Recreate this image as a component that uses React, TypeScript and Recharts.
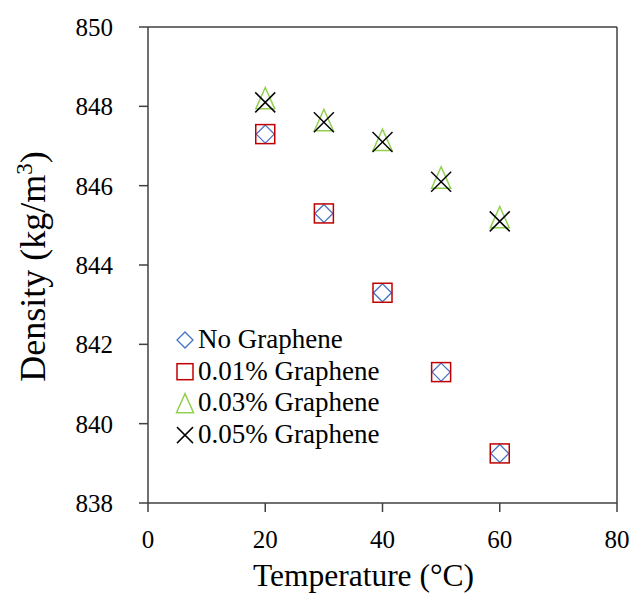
import React from "react";
import { ScatterChart, Scatter, XAxis, YAxis, ReferenceLine } from "recharts";

const temperatures = [20, 30, 40, 50, 60];
const noGraphene = [847.3, 845.3, 843.3, 841.3, 839.25];
const graphene001 = [847.3, 845.3, 843.3, 841.3, 839.25];
const graphene003 = [848.2, 847.65, 847.15, 846.2, 845.2];
const graphene005 = [848.1, 847.6, 847.1, 846.1, 845.1];
const xTicks = [0, 20, 40, 60, 80];
const yTicks = [838, 840, 842, 844, 846, 848, 850];
const seriesNames = ["No Graphene", "0.01% Graphene", "0.03% Graphene", "0.05% Graphene"];

const toPoints = (vals: number[]) => temperatures.map((t, i) => ({ t, d: vals[i] }));

const FONT = "Liberation Serif, Times New Roman, serif";
const AXIS = "#404040";
const BLUE = "#4472C4";
const RED = "#C00000";
const GREEN = "#92D050";

type MarkerKind = "diamond" | "square" | "triangle" | "cross";

const Marker = ({ kind, cx, cy, s }: { kind: MarkerKind; cx: number; cy: number; s: number }) => {
  if (kind === "diamond")
    return <path d={`M${cx},${cy - s} L${cx + s},${cy} L${cx},${cy + s} L${cx - s},${cy} Z`} fill="none" stroke={BLUE} strokeWidth={1.3} />;
  if (kind === "square")
    return <rect x={cx - s} y={cy - s} width={2 * s} height={2 * s} fill="none" stroke={RED} strokeWidth={1.5} />;
  if (kind === "triangle")
    return <path d={`M${cx},${cy - s * 1.15} L${cx + s},${cy + s * 1.1} L${cx - s},${cy + s * 1.1} Z`} fill="none" stroke={GREEN} strokeWidth={1.5} />;
  return (
    <g stroke="#000" strokeWidth={1.5}>
      <line x1={cx - s} y1={cy - s} x2={cx + s} y2={cy + s} />
      <line x1={cx - s} y1={cy + s} x2={cx + s} y2={cy - s} />
    </g>
  );
};

const shapeFor = (kind: MarkerKind, s: number) => (props: any) => (
  <Marker kind={kind} cx={props.cx} cy={props.cy} s={s} />
);

const kinds: MarkerKind[] = ["diamond", "square", "triangle", "cross"];

const LegendOverlay = () => (
  <svg width={260} height={140} style={{ position: "absolute", left: 170, top: 322 }}>
    {seriesNames.map((n, i) => {
      const cy = 18 + i * 31.7;
      return (
        <g key={n}>
          <Marker kind={kinds[i]} cx={15} cy={cy} s={kinds[i] === "triangle" ? 8.5 : 8} />
          <text x={28} y={cy + 8} fontFamily={FONT} fontSize={27} fill="#000">{n}</text>
        </g>
      );
    })}
  </svg>
);

const YLabel = (props: any) => {
  const vb = props.viewBox || { x: 0, y: 0, width: 0, height: 0 };
  const x = vb.x + 45;
  const y = vb.y + vb.height / 2 + 1.5;
  return (
    <text x={x} y={y} transform={`rotate(-90, ${x}, ${y})`} textAnchor="middle" fontFamily={FONT} fontSize={36} fill="#000">
      Density (kg/m<tspan dy={-13} fontSize={23}>3</tspan><tspan dy={13}>)</tspan>
    </text>
  );
};

const XLabel = (props: any) => {
  const vb = props.viewBox || { x: 0, y: 0, width: 0, height: 0 };
  return (
    <text x={vb.x + vb.width / 2 - 19} y={vb.y + 83} textAnchor="middle" fontFamily={FONT} fontSize={31.5} fill="#000">
      Temperature (°C)
    </text>
  );
};

export default function App() {
  return (
    <div style={{ position: "absolute", left: 0, top: 0, width: 633, height: 596, background: "#fff" }}>
      <ScatterChart width={633} height={596} margin={{ top: 27, right: 16, bottom: 0, left: 0 }}>
        <XAxis
          type="number"
          dataKey="t"
          domain={[0, 80]}
          ticks={xTicks}
          allowDataOverflow
          height={93}
          stroke={AXIS}
          strokeWidth={1.5}
          tickSize={9}
          tickMargin={18}
          tick={{ fill: "#000", fontFamily: FONT, fontSize: 25 }}
          label={<XLabel />}
        />
        <YAxis
          type="number"
          dataKey="d"
          domain={[838, 850]}
          ticks={yTicks}
          allowDataOverflow
          width={148}
          stroke={AXIS}
          strokeWidth={1.5}
          tickSize={9}
          tickMargin={26}
          tick={{ fill: "#000", fontFamily: FONT, fontSize: 25 }}
          label={<YLabel />}
        />
        <ReferenceLine y={850} stroke={AXIS} strokeWidth={1.5} />
        <ReferenceLine x={80} stroke={AXIS} strokeWidth={1.5} />
        <Scatter name={seriesNames[0]} data={toPoints(noGraphene)} shape={shapeFor("diamond", 9)} isAnimationActive={false} />
        <Scatter name={seriesNames[1]} data={toPoints(graphene001)} shape={shapeFor("square", 9.5)} isAnimationActive={false} />
        <Scatter name={seriesNames[2]} data={toPoints(graphene003)} shape={shapeFor("triangle", 9.5)} isAnimationActive={false} />
        <Scatter name={seriesNames[3]} data={toPoints(graphene005)} shape={shapeFor("cross", 10)} isAnimationActive={false} />
      </ScatterChart>
      <LegendOverlay />
    </div>
  );
}
